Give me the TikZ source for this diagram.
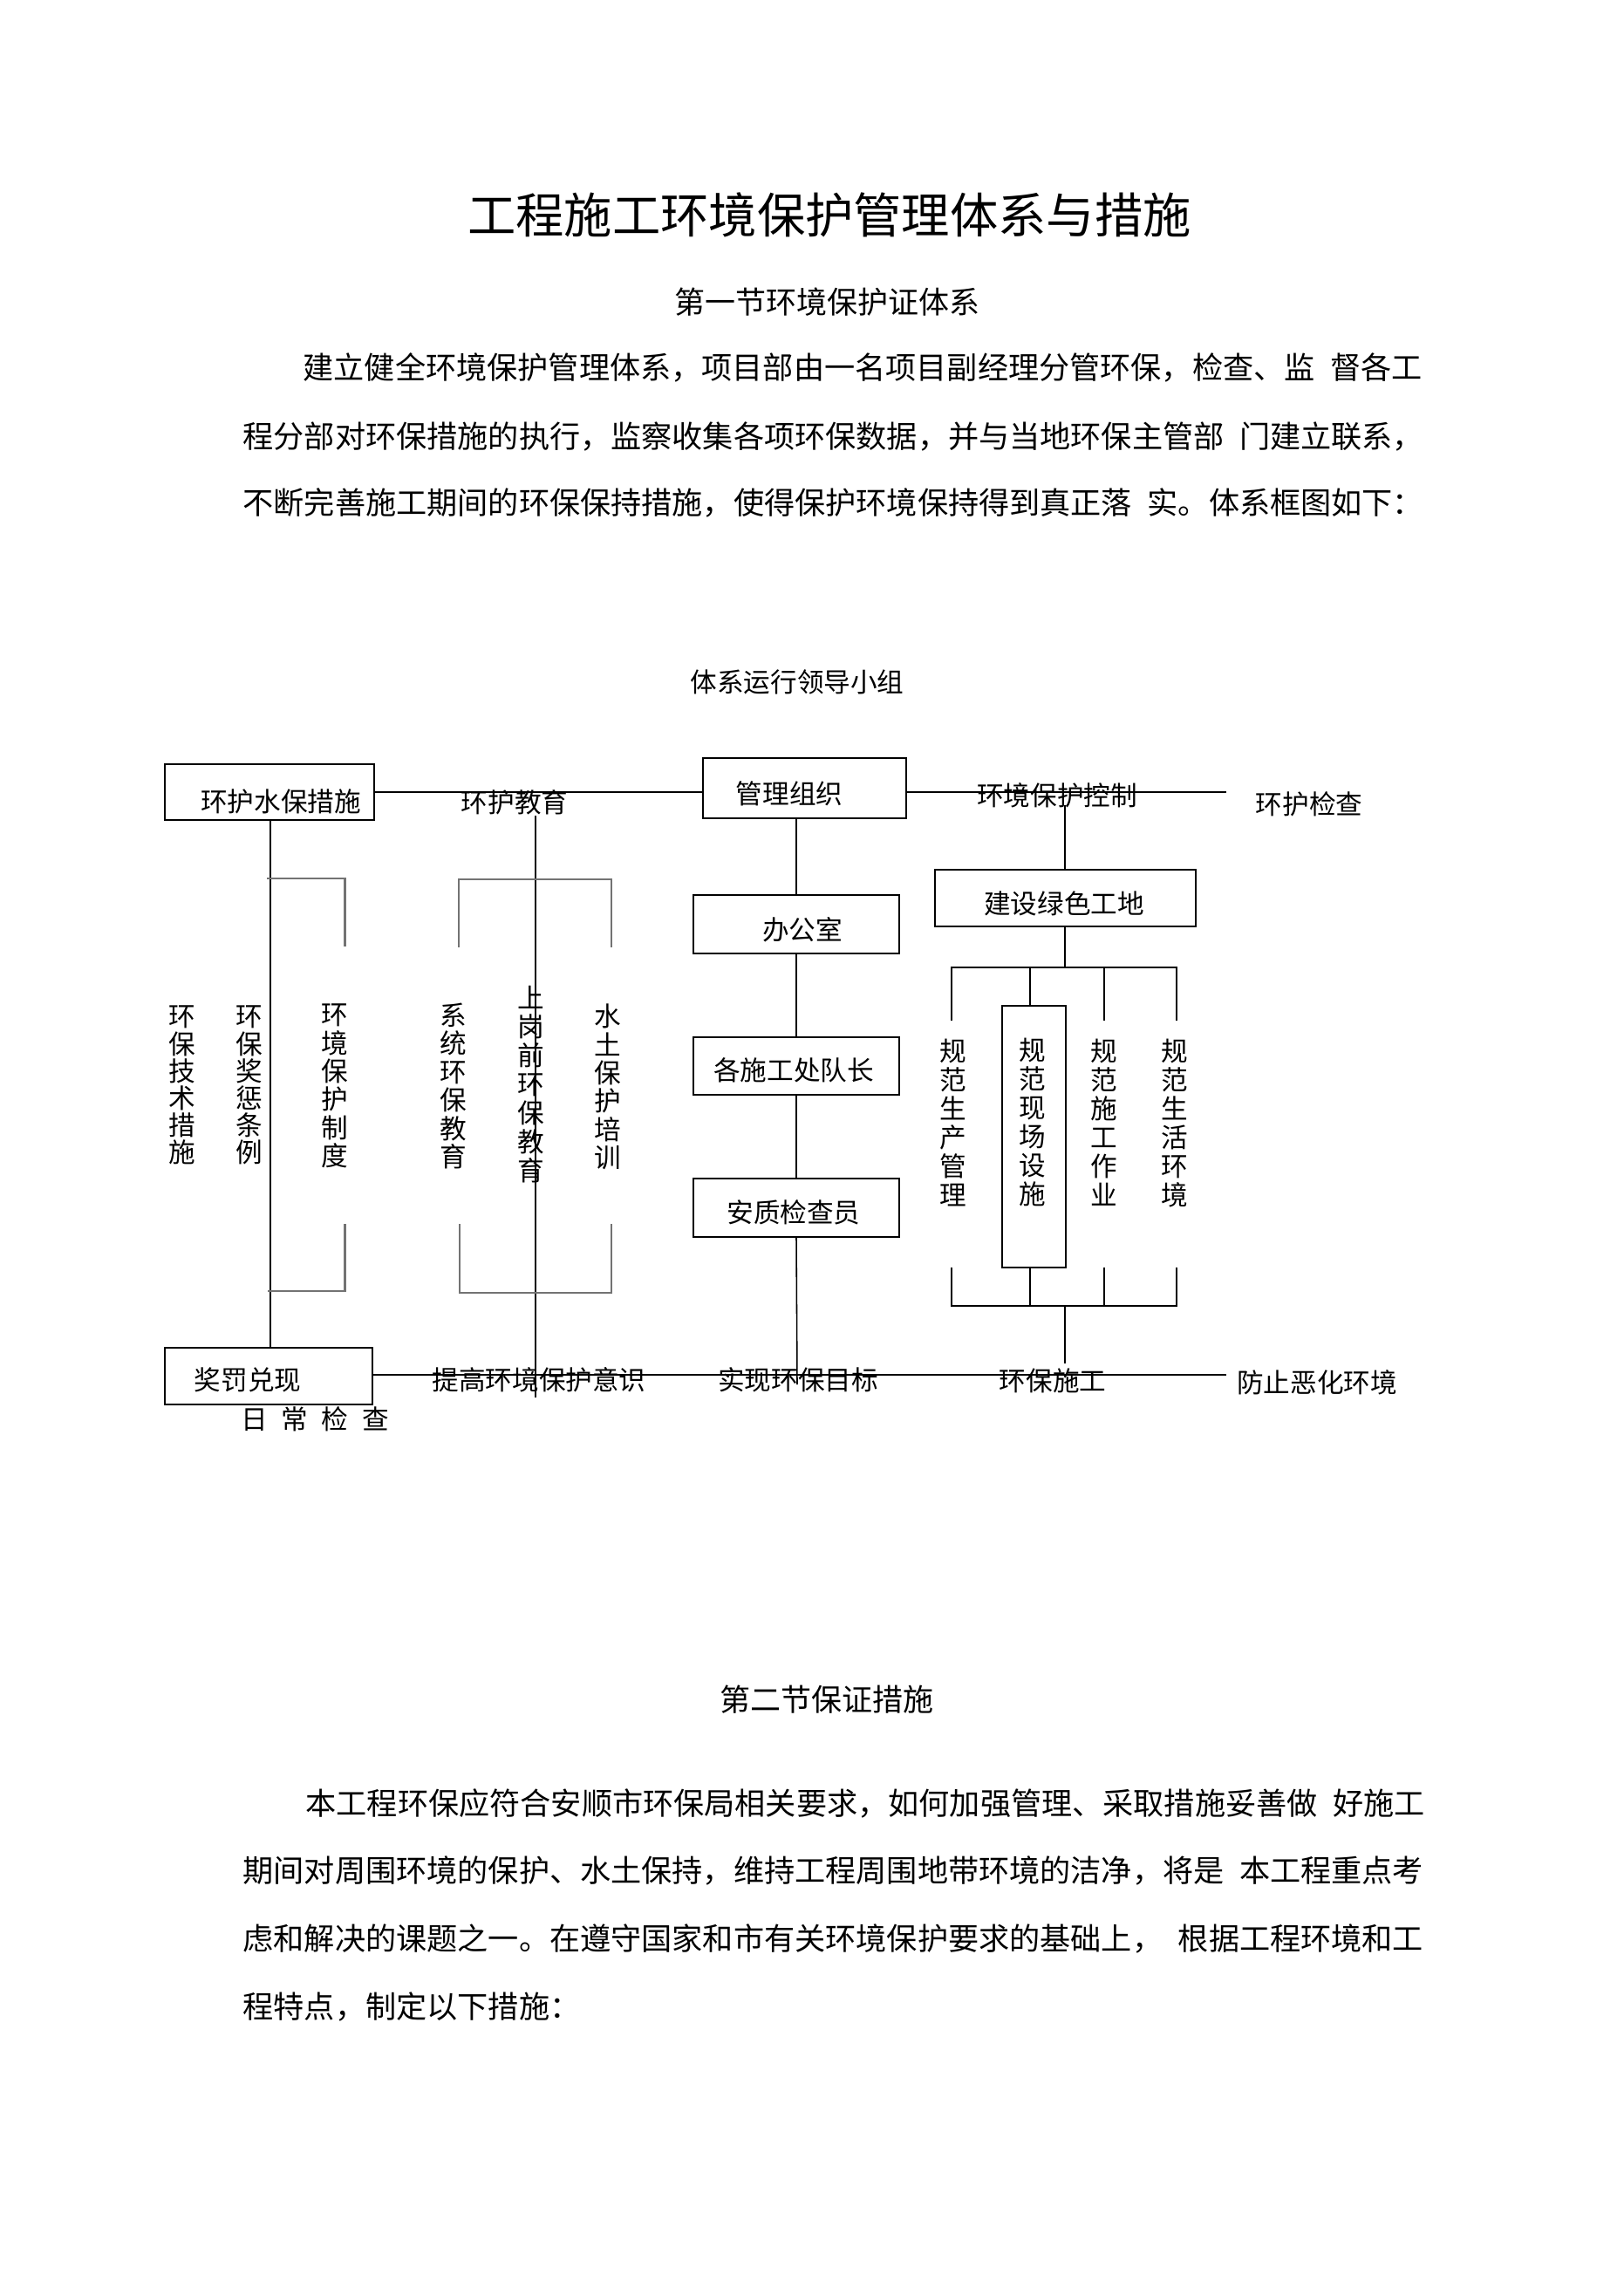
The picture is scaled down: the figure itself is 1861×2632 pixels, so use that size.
\documentclass[tikz,border=0pt]{standalone}
\usepackage{fontspec}
\newfontfamily\cjk{Noto Sans CJK SC}
\usetikzlibrary{fit}
\newcommand\gp{\hspace{0.5em}}
\begin{document}
\begin{tikzpicture}[x=0.32pt,y=-0.32pt,
  ttl/.style={font=\cjk\fontsize{17.7pt}{20pt}\selectfont, inner sep=0pt},
  sec/.style={font=\cjk\fontsize{11.2pt}{13pt}\selectfont, inner sep=0pt},
  body/.style={font=\cjk\fontsize{11.25pt}{13pt}\selectfont, inner sep=0pt, anchor=west},
  txt/.style={font=\cjk\fontsize{9.8pt}{11pt}\selectfont, inner sep=0pt},
  vt/.style={font=\cjk\fontsize{9.8pt}{10.37pt}\selectfont, inner sep=0pt, align=center},
  vtb/.style={font=\cjk\fontsize{9.8pt}{10.56pt}\selectfont, inner sep=0pt, align=center},
  vta/.style={font=\cjk\fontsize{9.8pt}{9.95pt}\selectfont, inner sep=0pt, align=center},
  bx/.style={draw, line width=0.6pt, inner sep=0pt},
  ln/.style={line width=0.5pt},
  gln/.style={line width=0.75pt, draw=black!55}]
\fill[white] (0,0) rectangle (1861,2632);
\useasboundingbox (0,0) rectangle (1861,2632);

% ---------- heading and text ----------
\node[ttl] (title) at (951,246) {工程施工环境保护管理体系与措施};
\node[sec] (sec1) at (948,346) {第一节环境保护证体系};
\node[body] (p1) at (347,421) {建立健全环境保护管理体系，项目部由一名项目副经理分管环保，检查、监\gp 督各工};
\node[body] (p2) at (278,500) {程分部对环保措施的执行，监察收集各项环保数据，并与当地环保主管部\gp 门建立联系，};
\node[body] (p3) at (278,576) {不断完善施工期间的环保保持措施，使得保护环境保持得到真正落\gp 实。体系框图如下：};

\node[sec] (sec2) at (948,1948) {第二节保证措施};
\node[body] (q1) at (350,2067) {本工程环保应符合安顺市环保局相关要求，如何加强管理、采取措施妥善做\gp 好施工};
\node[body] (q2) at (278,2144) {期间对周围环境的保护、水土保持，维持工程周围地带环境的洁净，将是\gp 本工程重点考};
\node[body] (q3) at (278,2222) {虑和解决的课题之一。在遵守国家和市有关环境保护要求的基础上，\gp 根据工程环境和工};
\node[body] (q4) at (278,2300) {程特点，制定以下措施：};

% ---------- diagram ----------
\node[txt] (lead) at (914,782) {体系运行领导小组};

% boxes
\node[bx, fit={(189,876) (429,940)}] (boxA) {};
\node[txt] (boxAt) at (322,919) {环护水保措施};
\node[bx, fit={(806,869) (1039,938)}] (guanli) {};
\node[txt] (guanlit) at (905,910) {管理组织};
\node[bx, fit={(795,1026) (1031,1093)}] (bgs) {};
\node[txt] (bgst) at (920,1066) {办公室};
\node[bx, fit={(795,1189) (1031,1255)}] (dz) {};
\node[txt] (dzt) at (910,1227) {各施工处队长};
\node[bx, fit={(795,1351) (1031,1418)}] (aj) {};
\node[txt] (ajt) at (910,1390) {安质检查员};
\node[bx, fit={(1072,997) (1371,1062)}] (lvse) {};
\node[txt] (lvset) at (1220,1036) {建设绿色工地};
\node[bx, fit={(1149,1153) (1222,1453)}] (xc) {};
\node[vtb] (xct) at (1184,1287) {规\\范\\现\\场\\设\\施};
\node[bx, fit={(189,1545) (427,1610)}] (jf) {};
\node[txt] (jft) at (284,1582) {奖罚兑现};

% labels on lines
\node[txt] (edu) at (590,920) {环护教育};
\node[txt] (ctrl) at (1212,912) {环境保护控制};
\node[txt] (chk) at (1501,922) {环护检查};
\node[txt] (yishi) at (618,1582) {提高环境保护意识};
\node[txt] (mubiao) at (915,1582) {实现环保目标};
\node[txt] (sg) at (1207,1583) {环保施工};
\node[txt] (ehua) at (1510,1585) {防止恶化环境};
\node[txt] (rc) at (361,1627) {日\hspace{5pt}常\hspace{5pt}检\hspace{5pt}查};

% vertical labels
\node[vta] (v1) at (209,1244) {环\\保\\技\\术\\措\\施};
\node[vta] (v2) at (286,1244) {环\\保\\奖\\惩\\条\\例};
\node[vt] (v3) at (383.5,1245) {环\\境\\保\\护\\制\\度};
\node[vt] (v4) at (520,1245) {系\\统\\环\\保\\教\\育};
\node[vtb] (v5) at (609,1243.5) {上\\岗\\前\\环\\保\\教\\育};
\node[vt] (v6) at (696.5,1246) {水\\土\\保\\护\\培\\训};
\node[vtb] (r1) at (1093,1287) {规\\范\\生\\产\\管\\理};
\node[vtb] (r3) at (1266,1287) {规\\范\\施\\工\\作\\业};
\node[vtb] (r4) at (1347,1288) {规\\范\\生\\活\\环\\境};

% free end coordinates
\coordinate (topEnd) at (1406,908);
\coordinate (eduTop) at (614,935);
\coordinate (eduBot) at (614,1602);
\coordinate (ctrlTop) at (1221,923);
\coordinate (ajBot) at (914,1587);
\coordinate (botEnd) at (1406,1576);
\coordinate (sgTop) at (1221,1563);
\coordinate (brT) at (1221,1109);
\coordinate (brB) at (1221,1497);

% top line
\draw[ln] (boxA.east) -- (boxA.east -| guanli.west);
\draw[ln] (guanli.east |- boxA.east) -- (topEnd);
% bottom line
\draw[ln] (jf.east |- botEnd) -- (botEnd);

% left verticals
\draw[ln] (boxA.south -| 310,0) -- (jf.north -| 310,0);
\draw[ln] (eduTop) -- (eduBot);

% centre column
\draw[ln] (bgs.north |- guanli.south) -- (bgs.north);
\draw[ln] (bgs.south) -- (dz.north);
\draw[ln] (dz.south) -- (aj.north);
\draw[ln] (aj.south) -- (ajBot);

% right column
\draw[ln] (ctrlTop) -- (ctrlTop |- lvse.north);
\draw[ln] (lvse.south -| brT) -- (brT);
\draw[ln] (1091,1170) -- (1091,1109) -- (1349,1109) -- (1349,1170);
\draw[ln] (1266,1109) -- (1266,1170);
\draw[ln] (1181,1109) -- (xc.north -| 1181,0);
\draw[ln] (1091,1453) -- (1091,1497) -- (1349,1497) -- (1349,1453);
\draw[ln] (1266,1453) -- (1266,1497);
\draw[ln] (xc.south -| 1181,0) -- (1181,1497);
\draw[ln] (brB) -- (sgTop);

% grey brackets
\draw[gln] (306,1007) -- (395.5,1007) -- (395.5,1085);
\draw[gln] (395.5,1403) -- (395.5,1480) -- (307,1480);
\draw[gln] (526,1086) -- (526,1008) -- (701,1008) -- (701,1086);
\draw[gln] (527,1403) -- (527,1482) -- (701,1482) -- (701,1403);
\end{tikzpicture}
\end{document}
